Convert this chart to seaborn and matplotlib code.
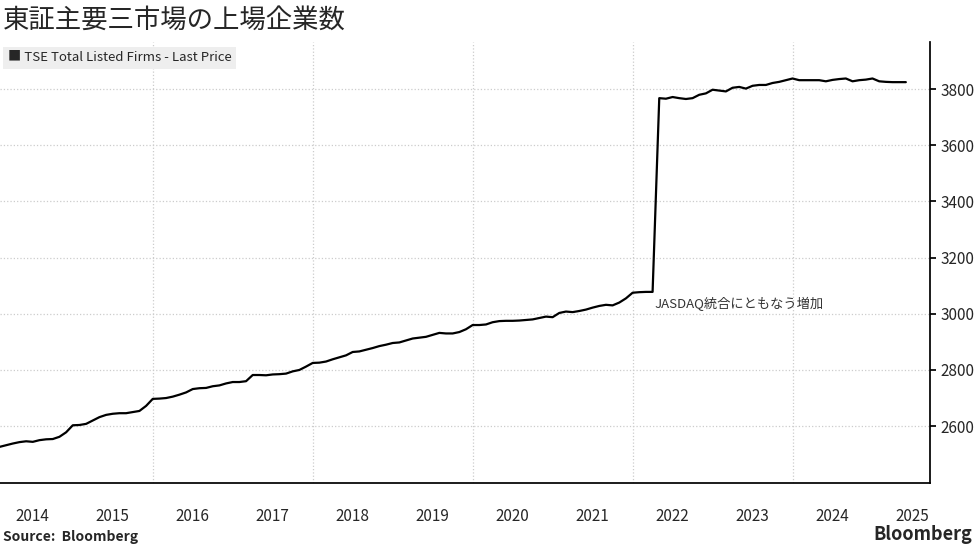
import numpy as np
import pandas as pd
import matplotlib.pyplot as plt
import seaborn as sns

# Monthly values, Feb 2014 - Jun 2025
v2014 = [2526, 2532, 2538, 2543, 2546, 2544, 2550, 2553, 2554, 2562, 2578]
v2015 = [2603, 2604, 2608, 2620, 2632, 2640, 2644, 2646, 2646, 2650, 2654, 2672]
v2016 = [2697, 2698, 2700, 2705, 2712, 2720, 2732, 2735, 2736, 2742, 2745, 2752]
v2017 = [2757, 2757, 2760, 2782, 2782, 2781, 2784, 2785, 2787, 2795, 2800, 2812]
v2018 = [2825, 2826, 2830, 2838, 2845, 2852, 2864, 2866, 2872, 2878, 2885, 2890]
v2019 = [2896, 2898, 2905, 2912, 2915, 2918, 2925, 2932, 2930, 2930, 2935, 2945]
v2020 = [2960, 2960, 2962, 2970, 2974, 2975, 2975, 2976, 2978, 2980, 2985, 2990]
v2021 = [2988, 3003, 3008, 3006, 3010, 3015, 3022, 3028, 3032, 3030, 3040, 3055]
v2022 = [3075, 3077, 3078, 3078, 3768, 3766, 3772, 3768, 3765, 3768, 3780, 3785]
v2023 = [3798, 3795, 3792, 3805, 3808, 3802, 3812, 3815, 3815, 3822, 3826, 3832]
v2024 = [3838, 3832, 3832, 3832, 3832, 3828, 3833, 3836, 3838, 3828, 3832, 3834]
v2025 = [3838, 3828, 3826, 3825, 3825, 3825]

values = v2014 + v2015 + v2016 + v2017 + v2018 + v2019 + v2020 + v2021 + v2022 + v2023 + v2024 + v2025
dates = pd.date_range("2014-02-01", periods=len(values), freq="MS")
years = list(range(2014, 2026))

df = pd.DataFrame({"date": dates, "firms": values})
df["t"] = df["date"].dt.year + (df["date"].dt.month - 1) / 12

sns.set_theme(style="white")
plt.rcParams["font.family"] = ["Noto Sans CJK JP", "DejaVu Sans"]

fig = plt.figure(figsize=(9.77, 5.49), dpi=100)
ax = fig.add_axes([0.0, 0.12, 0.952, 0.803])

sns.lineplot(data=df, x="t", y="firms", ax=ax, color="black", linewidth=1.6)

ax.set_xlim(2014.09, 2025.72)
ax.set_ylim(2397, 3967)
ax.yaxis.tick_right()
ax.set_yticks([2600, 2800, 3000, 3200, 3400, 3600, 3800])
ax.tick_params(axis="y", labelsize=11, length=4, direction="out", right=True, color="black")
ax.set_xticks([y + 0.5 for y in years])
ax.set_xticklabels([str(y) for y in years], fontsize=11)
ax.tick_params(axis="x", length=0, pad=18)
for y in [2016, 2018, 2020, 2022, 2024]:
    ax.axvline(y, color="#cccccc", linestyle=":", linewidth=0.9, zorder=0)
ax.yaxis.grid(True, color="#cccccc", linestyle=":", linewidth=0.9)
ax.set_axisbelow(True)
for s in ["top", "left"]:
    ax.spines[s].set_visible(False)
ax.spines["bottom"].set_color("black")
ax.spines["right"].set_color("black")
ax.set_xlabel("")
ax.set_ylabel("")

ax.text(2022.27, 3060, "JASDAQ統合にともなう増加", fontsize=9.5, color="#333333", va="top", ha="left")

fig.text(0.003, 0.963, "東証主要三市場の上場企業数", fontsize=19, va="center", ha="left")
fig.text(0.008, 0.895, "■ TSE Total Listed Firms - Last Price", fontsize=9.5, va="center", ha="left",
         bbox=dict(boxstyle="square,pad=0.35", facecolor="#eeeeee", edgecolor="none"))
fig.text(0.003, 0.01, "Source:  Bloomberg", fontsize=10, fontweight="bold", va="bottom", ha="left")
fig.text(0.995, 0.01, "Bloomberg", fontsize=13, fontweight="bold", va="bottom", ha="right")

fig.savefig("out.png", dpi=100)
